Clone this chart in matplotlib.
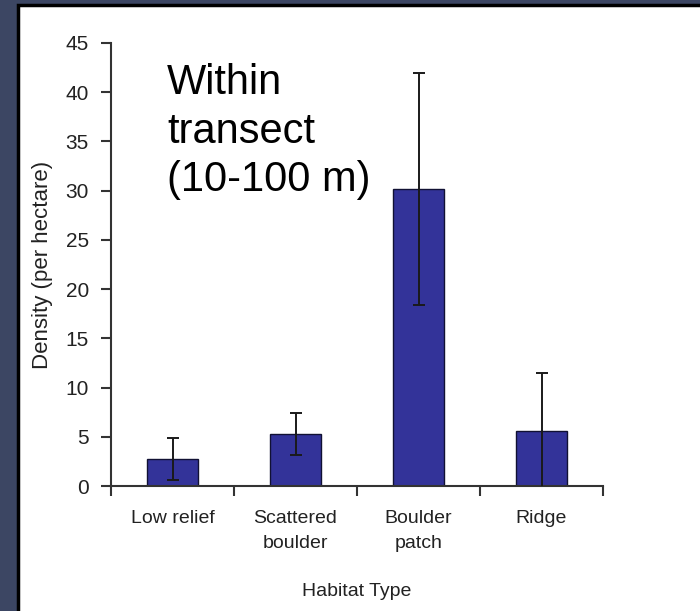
import matplotlib
matplotlib.use("Agg")
import matplotlib.pyplot as plt
from matplotlib.patches import Rectangle
import numpy as np

plt.rcParams['font.family'] = ['Liberation Sans', 'DejaVu Sans']

categories = ["Low relief", "Scattered\nboulder", "Boulder\npatch", "Ridge"]
density = [2.75, 5.3, 30.2, 5.6]
errors = [2.1, 2.15, 11.8, 5.9]
y_ticks = [0, 5, 10, 15, 20, 25, 30, 35, 40, 45]

W, H = 700, 611
fig = plt.figure(figsize=(7, 6.11), dpi=100, facecolor="#3c4663")
fig.patches.append(Rectangle((17.5 / W, -0.05), 1.1, 1 - 5.5 / H + 0.05,
                             transform=fig.transFigure, facecolor="white",
                             edgecolor="black", linewidth=2.5, zorder=-5))

ax = fig.add_axes([111 / W, 1 - 486 / H, (603 - 111) / W, (486 - 43) / H])
ax.set_zorder(5)
ax.set_facecolor("none")
x = np.arange(len(categories))
ax.bar(x, density, width=0.42, color="#333399", edgecolor="#111133", linewidth=1.0, zorder=2)
ax.errorbar(x, density, yerr=errors, fmt="none", ecolor="#1a1a1a", elinewidth=1.4,
            capsize=4, capthick=1.4, zorder=3)

ax.set_xlim(-0.5, len(categories) - 0.5)
ax.set_ylim(0, 45)
ax.set_yticks(y_ticks)
ax.set_xticks(np.arange(len(categories) + 1) - 0.5)
ax.set_xticklabels([])
ax.set_xticks(x, minor=True)
ax.set_xticklabels(categories, minor=True, fontsize=14, color="#222222")
for lbl in ax.get_xticklabels(minor=True):
    lbl.set_linespacing(1.65)
ax.tick_params(axis="x", which="major", direction="out", length=7, width=1.5, color="#333333")
ax.tick_params(axis="x", which="minor", length=0, pad=17)
ax.tick_params(axis="y", direction="out", length=7, width=1.5, color="#333333",
               labelsize=15, labelcolor="#222222", pad=9)

for s in ["top", "right"]:
    ax.spines[s].set_visible(False)
for s in ["left", "bottom"]:
    ax.spines[s].set_linewidth(1.5)
    ax.spines[s].set_color("#333333")

ax.set_xlabel("Habitat Type", fontsize=14, color="#222222", labelpad=22)
ax.set_ylabel("Density (per hectare)", fontsize=16, color="#222222", labelpad=9)

fig.text(167 / W, 1 - 63 / H, "Within\ntransect\n(10-100 m)", fontsize=30,
         color="black", ha="left", va="top", linespacing=1.28, zorder=6)

fig.savefig("out.png", dpi=100, facecolor=fig.get_facecolor())
